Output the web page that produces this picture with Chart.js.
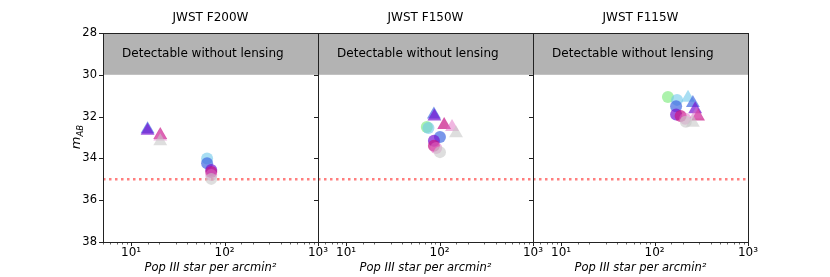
<!DOCTYPE html>
<html><head><meta charset="utf-8">
<script src="https://cdn.jsdelivr.net/npm/chart.js@4.4.1/dist/chart.umd.min.js"></script>
<style>
body{margin:0;background:#fff;width:830px;height:277px;overflow:hidden;position:relative}
canvas{position:absolute;left:0;top:0}
</style>
</head><body>
<canvas id="c0" width="830" height="277"></canvas>
<canvas id="c1" width="830" height="277"></canvas>
<canvas id="c2" width="830" height="277"></canvas>
<script>
// ---- data ----
const panelTitles = ['JWST F200W', 'JWST F150W', 'JWST F115W'];
const seriesNames = ['green', 'cyan', 'blue', 'purple', 'magenta', 'pink', 'gray'];
const xTickValues = [10, 100, 1000];
const xTickLabels = ['10¹', '10²', '10³'];
const yTickValues = [28, 30, 32, 34, 36, 38];
const detectLimit = 35;
const bandRange = [28, 30];
const bandText = 'Detectable without lensing';

// [x, y] per series (null = absent)
const f200Circles   = [null, [65, 34.0], [65, 34.23], [72, 34.55], [72, 34.65], [72, 34.8], [72, 34.98]];
const f200Triangles = [null, null, [15, 32.6], [15, 32.68], [20.5, 32.88], [20.5, 32.95], [20.5, 33.18]];
const f150Circles   = [[73, 32.5], [76, 32.55], [101, 32.98], [87, 33.15], [87, 33.4], [92, 33.5], [101, 33.7]];
const f150Triangles = [null, null, [87, 31.9], [88, 32.0], [112, 32.4], [136, 32.5], [150, 32.8]];
const f115Circles   = [[139, 31.06], [174, 31.2], [170, 31.5], [170, 31.9], [190, 31.97], [213, 32.1], [216, 32.25]];
const f115Triangles = [null, [228, 31.1], [257, 31.35], [272, 31.65], [292, 32.0], [280, 31.9], [257, 32.3]];

const panelCircles = [f200Circles, f150Circles, f115Circles];
const panelTriangles = [f200Triangles, f150Triangles, f115Triangles];

// ---- styles ----
const seriesColors = [
  'rgba(144,238,144,0.75)',
  'rgba(110,200,235,0.6)',
  'rgba(65,105,225,0.7)',
  'rgba(120,20,210,0.7)',
  'rgba(199,21,133,0.7)',
  'rgba(225,110,195,0.5)',
  'rgba(200,200,200,0.6)'
];
const plotLefts = [103, 318, 533];
const plotWidth = 215;
const plotTop = 33;
const yAxisW = 40;
const xAxisH = 35;

Chart.defaults.font.family = 'DejaVu Sans';
Chart.defaults.font.size = 12;
Chart.defaults.color = '#000';

function isPow10(v) { const l = Math.log10(v); return Math.abs(l - Math.round(l)) < 1e-6; }

function makePlugin(p) {
  return {
    id: 'deco' + p,
    beforeDatasetsDraw(chart) {
      const {ctx, chartArea: a, scales: {x, y}} = chart;
      ctx.save();
      const y0 = y.getPixelForValue(bandRange[0]);
      const y1 = y.getPixelForValue(bandRange[1]);
      ctx.fillStyle = '#b3b3b3';
      ctx.fillRect(a.left, y0, a.right - a.left, y1 - y0);
      ctx.fillStyle = '#000';
      ctx.font = '12px "DejaVu Sans"';
      ctx.textBaseline = 'middle';
      ctx.textAlign = 'left';
      ctx.fillText(bandText, x.getPixelForValue(8), y.getPixelForValue((bandRange[0] + bandRange[1]) / 2));
      ctx.restore();
    },
    afterDatasetsDraw(chart) {
      const {ctx, chartArea: a, scales: {x, y}} = chart;
      ctx.save();
      ctx.strokeStyle = '#222';
      ctx.lineWidth = 1;
      ctx.strokeRect(Math.round(a.left) + 0.5, Math.round(a.top) + 0.5, Math.round(a.right - a.left), Math.round(a.bottom - a.top));
      x.ticks.forEach(t => {
        const px = Math.round(x.getPixelForValue(t.value)) + 0.5;
        const major = isPow10(t.value);
        ctx.lineWidth = major ? 1 : 0.7;
        ctx.beginPath();
        ctx.moveTo(px, a.bottom);
        ctx.lineTo(px, a.bottom + (major ? 4 : 2.5));
        ctx.stroke();
      });
      yTickValues.forEach(v => {
        const py = Math.round(y.getPixelForValue(v)) + 0.5;
        ctx.lineWidth = 1;
        ctx.beginPath();
        ctx.moveTo(a.left, py);
        ctx.lineTo(a.left - 4, py);
        ctx.stroke();
      });
      const cx = (a.left + a.right) / 2;
      ctx.fillStyle = '#000';
      ctx.textAlign = 'center';
      ctx.textBaseline = 'middle';
      ctx.font = '12px "DejaVu Sans"';
      ctx.fillText(panelTitles[p], cx, 18);
      ctx.font = 'italic 11.5px "DejaVu Sans"';
      ctx.fillText('Pop III star per arcmin²', cx, 268);
      if (p === 0) {
        ctx.translate(77, 137);
        ctx.rotate(-Math.PI / 2);
        ctx.textAlign = 'left';
        ctx.textBaseline = 'alphabetic';
        ctx.font = 'italic 13px "DejaVu Sans"';
        const mw = ctx.measureText('m').width;
        ctx.font = 'italic 8.5px "DejaVu Sans"';
        const sw = ctx.measureText('AB').width;
        const start = -(mw + sw) / 2;
        ctx.font = 'italic 13px "DejaVu Sans"';
        ctx.fillText('m', start, 3);
        ctx.font = 'italic 8.5px "DejaVu Sans"';
        ctx.fillText('AB', start + mw, 6);
      }
      ctx.restore();
    }
  };
}

for (let p = 0; p < 3; p++) {
  const datasets = [];
  datasets.push({
    type: 'line',
    data: [{x: 5, y: detectLimit}, {x: 1000, y: detectLimit}],
    borderColor: 'rgba(255,40,40,0.6)',
    borderWidth: 2.5,
    borderDash: [2.5, 3.5],
    pointRadius: 0,
    order: 100
  });
  seriesNames.forEach((name, i) => {
    const c = panelCircles[p][i];
    if (c) datasets.push({
      label: name + ' circle',
      data: [{x: c[0], y: c[1]}],
      pointStyle: 'circle',
      pointRadius: 6,
      backgroundColor: seriesColors[i],
      borderWidth: 0,
      order: -i * 2
    });
    const t = panelTriangles[p][i];
    if (t) datasets.push({
      label: name + ' triangle',
      data: [{x: t[0], y: t[1]}],
      pointStyle: 'triangle',
      pointRadius: 8,
      backgroundColor: seriesColors[i],
      borderWidth: 0,
      order: -i * 2 - 1
    });
  });
  new Chart(document.getElementById('c' + p), {
    type: 'scatter',
    data: {datasets},
    options: {
      responsive: false,
      animation: false,
      devicePixelRatio: 1,
      events: [],
      layout: {padding: {left: plotLefts[p] - yAxisW, right: 830 - plotLefts[p] - plotWidth, top: plotTop, bottom: 0}},
      plugins: {legend: {display: false}, tooltip: {enabled: false}},
      scales: {
        x: {
          type: 'logarithmic', min: 5, max: 1000,
          border: {display: false},
          grid: {display: false, tickLength: 3},
          afterFit: s => { s.height = xAxisH; },
          ticks: {
            autoSkip: false, maxRotation: 0, padding: 1,
            callback: v => { const k = xTickValues.findIndex(t => Math.abs(t - v) < 1e-6); return k >= 0 ? xTickLabels[k] : ''; }
          }
        },
        y: {
          min: 28, max: 38, reverse: true,
          border: {display: false},
          grid: {display: false, tickLength: 3},
          afterFit: s => { s.width = yAxisW; },
          afterBuildTicks: s => { s.ticks = yTickValues.map(v => ({value: v})); },
          ticks: {
            padding: 3,
            font: {size: 11.5},
            callback: v => p === 0 ? String(v) : ''
          }
        }
      }
    },
    plugins: [makePlugin(p)]
  });
}
</script>
</body></html>
